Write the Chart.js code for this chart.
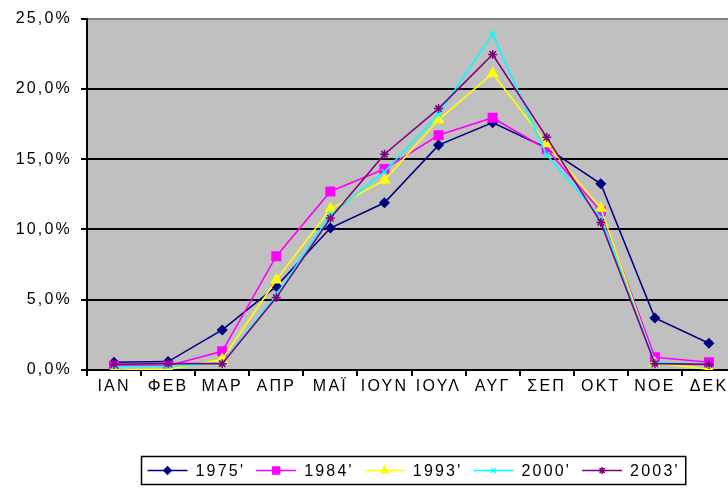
<!DOCTYPE html>
<html>
<head>
<meta charset="utf-8">
<script src="https://cdn.jsdelivr.net/npm/chart.js@4/dist/chart.umd.min.js"></script>
<style>
  html, body { margin: 0; padding: 0; background: #fff; overflow: hidden; }
  #wrap { position: relative; width: 760px; height: 488px; }
</style>
</head>
<body>
<div id="wrap"><canvas id="chart"></canvas></div>
<script>
// Months (Greek abbreviations)
const months = ['ΙΑΝ', 'ΦΕΒ', 'ΜΑΡ', 'ΑΠΡ', 'ΜΑΪ', 'ΙΟΥΝ', 'ΙΟΥΛ', 'ΑΥΓ', 'ΣΕΠ', 'ΟΚΤ', 'ΝΟΕ', 'ΔΕΚ'];

// Monthly share of the year's total, in percent
const y1975 = [0.55, 0.6, 2.85, 5.95, 10.1, 11.9, 16.0, 17.6, 15.8, 13.25, 3.7, 1.9];
const y1984 = [0.3, 0.3, 1.33, 8.1, 12.7, 14.3, 16.7, 17.95, 15.7, 11.3, 0.9, 0.55];
const y1993 = [0.0, 0.05, 0.75, 6.4, 11.45, 13.5, 17.8, 21.1, 16.1, 11.5, 0.5, 0.05];
const y2000 = [0.25, 0.25, 0.5, 5.3, 11.05, 14.1, 18.2, 23.9, 15.3, 10.85, 0.55, 0.4];
const y2003 = [0.4, 0.45, 0.45, 5.15, 10.8, 15.35, 18.6, 22.45, 16.55, 10.5, 0.45, 0.4];

const seriesLabels = ["1975'", "1984'", "1993'", "2000'", "2003'"];
const yTicks = [0, 5, 10, 15, 20, 25];

const FONT = { family: '"Liberation Sans", Arial, sans-serif', size: 16 };
const SPACING = '2.2px';

function fmtPct(v) { return v.toFixed(1).replace('.', ',') + '%'; }

const styles = [
  { color: '#000080', point: 'rectRot', radius: 4.5 },
  { color: '#FF00FF', point: 'rect', radius: 6 },
  { color: '#FFFF00', point: 'triangle', radius: 5.5 },
  { color: '#00FFFF', point: 'crossRot', radius: 4 },
  { color: '#800080', point: 'star', radius: 4.5 }
];
const values = [y1975, y1984, y1993, y2000, y2003];

const datasets = values.map((vals, i) => ({
  label: seriesLabels[i],
  data: vals,
  borderColor: styles[i].color,
  backgroundColor: styles[i].color,
  pointBackgroundColor: styles[i].color,
  pointBorderColor: styles[i].color,
  pointStyle: styles[i].point,
  pointRadius: styles[i].radius,
  pointBorderWidth: 1.5,
  borderWidth: 1.6,
  tension: 0,
  order: values.length - i
}));

// Wide letter spacing for all canvas text
const spacingPlugin = {
  id: 'spacing',
  beforeUpdate(chart) { chart.ctx.letterSpacing = SPACING; },
  beforeLayout(chart) { chart.ctx.letterSpacing = SPACING; },
  beforeDraw(chart) { chart.ctx.letterSpacing = SPACING; }
};

// Grey plot area
const plotBg = {
  id: 'plotBg',
  beforeDraw(chart) {
    const { ctx, chartArea: a } = chart;
    ctx.save();
    ctx.fillStyle = '#C0C0C0';
    ctx.fillRect(a.left, a.top, a.right - a.left, a.bottom - a.top);
    ctx.restore();
  }
};

// Boxed legend below the plot: line + marker + label for each series
const boxLegend = {
  id: 'boxLegend',
  afterDraw(chart) {
    const ctx = chart.ctx;
    ctx.save();
    ctx.letterSpacing = SPACING;
    ctx.font = '16px "Liberation Sans", Arial, sans-serif';
    ctx.textBaseline = 'middle';
    const lineLen = 40, gapText = 8, gapItem = 11, padL = 6, padR = 6;
    const widths = chart.data.datasets.map(d => ctx.measureText(d.label).width);
    let total = padL + padR;
    widths.forEach((w, i) => { total += lineLen + gapText + w + (i < widths.length - 1 ? gapItem : 0); });
    const cx = 413, top = 456.5, h = 28;
    const left = Math.round(cx - total / 2) + 0.5;
    ctx.fillStyle = '#fff';
    ctx.fillRect(left, top, total, h);
    ctx.strokeStyle = '#000';
    ctx.lineWidth = 1.5;
    ctx.strokeRect(left, top, total, h);
    const cy = top + h / 2;
    let x = left + padL;
    chart.data.datasets.forEach((d, i) => {
      ctx.strokeStyle = d.borderColor;
      ctx.lineWidth = 1.6;
      ctx.beginPath();
      ctx.moveTo(x, cy);
      ctx.lineTo(x + lineLen, cy);
      ctx.stroke();
      ctx.fillStyle = d.pointBackgroundColor;
      ctx.strokeStyle = d.pointBorderColor;
      ctx.lineWidth = 1.5;
      Chart.helpers.drawPoint(ctx, {
        pointStyle: d.pointStyle, radius: d.pointRadius * 0.8, rotation: 0, borderWidth: 1.5
      }, x + lineLen / 2, cy);
      ctx.fillStyle = '#000';
      ctx.fillText(d.label, x + lineLen + gapText, cy + 1);
      x += lineLen + gapText + widths[i] + gapItem;
    });
    ctx.restore();
  }
};

new Chart(document.getElementById('chart'), {
  type: 'line',
  data: { labels: months, datasets },
  plugins: [spacingPlugin, plotBg, boxLegend],
  options: {
    responsive: true,
    maintainAspectRatio: false,
    animation: false,
    layout: { padding: { left: 0, right: 24, top: 17, bottom: 0 } },
    plugins: { legend: { display: false }, tooltip: { enabled: false } },
    scales: {
      x: {
        offset: true,
        grid: {
          display: true,
          offset: true,
          drawOnChartArea: false,
          drawTicks: true,
          tickLength: 6,
          color: '#000',
          lineWidth: 2
        },
        border: { display: true, color: '#000', width: 2 },
        ticks: {
          color: '#000',
          font: FONT,
          autoSkip: false,
          maxRotation: 0,
          minRotation: 0,
          padding: 1
        },
        afterFit(scale) { scale.height = 118; }
      },
      y: {
        min: 0,
        max: 25,
        afterBuildTicks(scale) { scale.ticks = yTicks.map(v => ({ value: v })); },
        grid: {
          color: ctx => (ctx.tick && ctx.tick.value === 25 ? '#808080' : '#000'),
          lineWidth: 2,
          tickLength: 6,
          tickColor: '#000',
          drawTicks: true
        },
        border: { display: true, color: '#000', width: 2 },
        ticks: {
          color: '#000',
          font: FONT,
          padding: 9,
          callback: v => fmtPct(v)
        },
        afterFit(scale) { scale.width = 87; }
      }
    }
  }
});
</script>
</body>
</html>
